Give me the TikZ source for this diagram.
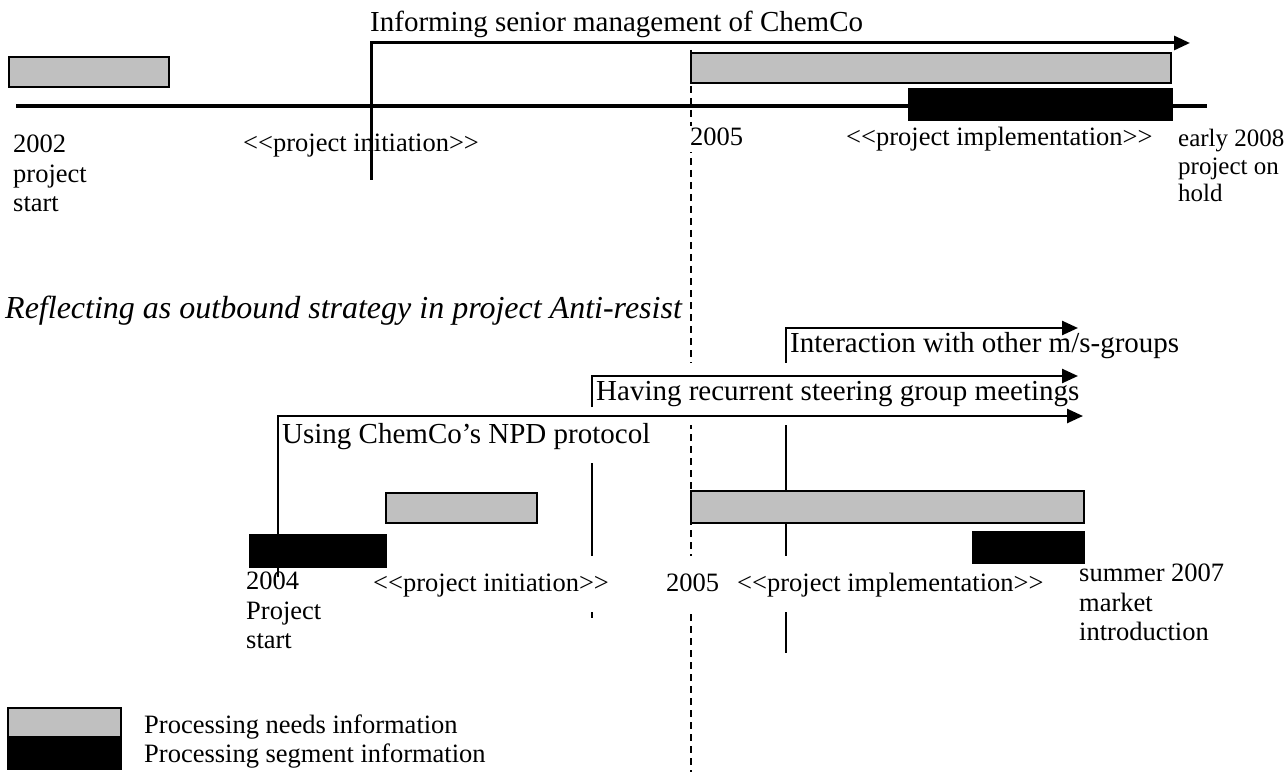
\documentclass[tikz,border=0pt]{standalone}
\usepackage{fontspec}
\setmainfont{Liberation Serif}
\usetikzlibrary{arrows.meta}
\definecolor{needsgrey}{RGB}{192,192,192}
\tikzset{
  needsbar/.style={draw=black,fill=needsgrey,line width=2pt},
  segbar/.style={draw=black,fill=black,line width=2pt},
  marker/.style={line width=2.5pt},
  track/.style={line width=2.5pt,-{Triangle[length=16pt,width=14pt]}},
  bigtxt/.style={font=\fontsize{29}{34}\selectfont,inner sep=0pt},
  smalltxt/.style={font=\fontsize{26.5}{29.5}\selectfont,inner sep=0pt},
  lowbox/.style={fill=white,inner xsep=2pt,inner ysep=0pt,text height=35pt,text depth=21pt},
}
\begin{document}
\begin{tikzpicture}[x=1pt,y=-1pt]
    \useasboundingbox (0,0) rectangle (1288,778);
        \coordinate (d1) at (691,50);
        \coordinate (d2) at (691,772);
        \coordinate (s1) at (592,400);
        \coordinate (s2) at (592,618);
        \coordinate (t1) at (786,350);
        \coordinate (t2) at (786,653);
        \draw[line width=1.3pt,dash pattern=on 7pt off 5pt] (d1) -- (d2);
        \draw[marker] (s1) -- (s2);
        \draw[marker] (t1) -- (t2);

        \begin{scope}[every node/.style={smalltxt,anchor=base west}]
        \node[anchor=north west,align=left] (a02) at (13,135) {2002\\project\\start};
        \node (ainit) at (243,152) {<{}<project initiation>{}>};
        \node[fill=white,inner xsep=2pt,text height=20pt,text depth=6pt] (a05) at (688,146) {2005};
        \node (aimpl) at (846,146) {<{}<project implementation>{}>};
        \node[anchor=north west,align=left,font=\fontsize{25}{27.5}\selectfont] (a08) at (1178,129) {early 2008\\project on\\hold};
        \node[anchor=north west,align=left] (b04) at (246,572) {2004\\Project\\start};
        \node[lowbox] (binit) at (371,591) {<{}<project initiation>{}>};
        \node[lowbox] (b05) at (664,591) {2005};
        \node[lowbox] (bimpl) at (735,591) {<{}<project implementation>{}>};
        \node[anchor=north west,align=left] (b07) at (1079,564) {summer 2007\\market\\introduction};
        \node (lneeds) at (144,733) {Processing needs information};
        \node (lseg) at (144,762) {Processing segment information};
        \end{scope}

        \begin{scope}[every node/.style={bigtxt,anchor=base west}]
        \node (inform) at (370,32) {Informing senior management of ChemCo};
        \node[font=\fontsize{32}{36}\selectfont\itshape] (refl) at (5,318) {Reflecting as outbound strategy in project Anti-resist};
        \node (inter) at (790,352) {Interaction with other m/s-groups};
        \node[fill=white,text height=37pt,text depth=25pt] (steer) at (596,400) {Having recurrent steering group meetings};
        \node[fill=white,text height=36pt,text depth=20pt] (npd) at (282,443) {Using ChemCo’s NPD protocol};
        \end{scope}

        \draw[needsbar] (9,57) rectangle (169,87);
        \draw[needsbar] (691,53) rectangle (1171,83);
        \draw[segbar] (909,89) rectangle (1172,120);
        \draw[line width=4pt] (16,106) -- (1207,106);
        \draw[needsbar] (386,493) rectangle (537,523);
        \draw[segbar] (250,535) rectangle (386,567);
        \draw[needsbar] (691,491) rectangle (1084,523);
        \draw[segbar] (973,532) rectangle (1084,563);
        \draw[needsbar] (8,708) rectangle (121,737);
        \draw[segbar] (8,737) rectangle (121,769);

        \coordinate (i0) at (371,180);
        \coordinate (i1) at (371,43);
        \coordinate (i2) at (1190,43);
        \coordinate (x0) at (786,362);
        \coordinate (x1) at (786,328);
        \coordinate (x2) at (1078,328);
        \coordinate (h0) at (592,407);
        \coordinate (h1) at (592,376);
        \coordinate (h2) at (1078,376);
        \coordinate (u0) at (278,577);
        \coordinate (u1) at (278,416);
        \coordinate (u2) at (1083,416);
        \draw[track,line width=3pt] (i0) -- (i1) -- (i2);
        \draw[track] (x0) -- (x1) -- (x2);
        \draw[track] (h0) -- (h1) -- (h2);
        \draw[track] (u0) -- (u1) -- (u2);
    \end{tikzpicture}
\end{document}
